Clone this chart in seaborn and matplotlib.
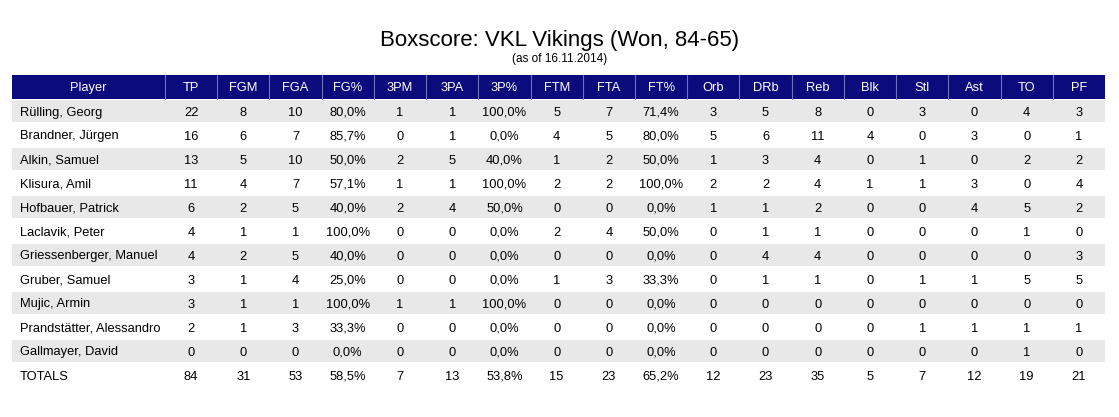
import matplotlib
matplotlib.use("Agg")
import matplotlib.pyplot as plt
import seaborn as sns
import pandas as pd
from matplotlib.patches import Rectangle

columns = ["Player", "TP", "FGM", "FGA", "FG%", "3PM", "3PA", "3P%", "FTM", "FTA",
           "FT%", "Orb", "DRb", "Reb", "Blk", "Stl", "Ast", "TO", "PF"]
players = ["Rülling, Georg", "Brandner, Jürgen", "Alkin, Samuel", "Klisura, Amil",
           "Hofbauer, Patrick", "Laclavik, Peter", "Griessenberger, Manuel",
           "Gruber, Samuel", "Mujic, Armin", "Prandstätter, Alessandro",
           "Gallmayer, David", "TOTALS"]
tp = [22, 16, 13, 11, 6, 4, 4, 3, 3, 2, 0, 84]
fgm = [8, 6, 5, 4, 2, 1, 2, 1, 1, 1, 0, 31]
fga = [10, 7, 10, 7, 5, 1, 5, 4, 1, 3, 0, 53]
fg_pct = ["80,0%", "85,7%", "50,0%", "57,1%", "40,0%", "100,0%", "40,0%", "25,0%",
          "100,0%", "33,3%", "0,0%", "58,5%"]
tpm = [1, 0, 2, 1, 2, 0, 0, 0, 1, 0, 0, 7]
tpa = [1, 1, 5, 1, 4, 0, 0, 0, 1, 0, 0, 13]
tp_pct = ["100,0%", "0,0%", "40,0%", "100,0%", "50,0%", "0,0%", "0,0%", "0,0%",
          "100,0%", "0,0%", "0,0%", "53,8%"]
ftm = [5, 4, 1, 2, 0, 2, 0, 1, 0, 0, 0, 15]
fta = [7, 5, 2, 2, 0, 4, 0, 3, 0, 0, 0, 23]
ft_pct = ["71,4%", "80,0%", "50,0%", "100,0%", "0,0%", "50,0%", "0,0%", "33,3%",
          "0,0%", "0,0%", "0,0%", "65,2%"]
orb = [3, 5, 1, 2, 1, 0, 0, 0, 0, 0, 0, 12]
drb = [5, 6, 3, 2, 1, 1, 4, 1, 0, 0, 0, 23]
reb = [8, 11, 4, 4, 2, 1, 4, 1, 0, 0, 0, 35]
blk = [0, 4, 0, 1, 0, 0, 0, 0, 0, 0, 0, 5]
stl = [3, 0, 1, 1, 0, 0, 0, 1, 0, 1, 0, 7]
ast = [0, 3, 0, 3, 4, 0, 0, 1, 0, 1, 0, 12]
to = [4, 0, 2, 0, 5, 1, 0, 5, 0, 1, 1, 19]
pf = [3, 1, 2, 4, 2, 0, 3, 5, 0, 1, 0, 21]

df = pd.DataFrame(dict(zip(columns, [players, tp, fgm, fga, fg_pct, tpm, tpa, tp_pct,
                                     ftm, fta, ft_pct, orb, drb, reb, blk, stl, ast, to, pf])))

sns.set_theme(style="white", rc={"font.family": "Liberation Sans", "text.color": "black"})
W, H = 1119, 417
fig = plt.figure(figsize=(W / 100, H / 100), dpi=100)
ax = fig.add_axes([0, 0, 1, 1])
ax.set_xlim(0, W)
ax.set_ylim(H, 0)
ax.axis("off")

x0, x1, player_w = 12, 1105, 153
col_w = (x1 - x0 - player_w) / (len(columns) - 1)
top, row_h = 75, 24
fs = 9.3

ax.text(W / 2, 40, "Boxscore: VKL Vikings (Won, 84-65)", ha="center", va="center",
        fontsize=16, color="black")
ax.text(W / 2, 59, "(as of 16.11.2014)", ha="center", va="center", fontsize=8.5, color="black")

def col_left(j):
    return x0 if j == 0 else x0 + player_w + (j - 1) * col_w

# header
ax.add_patch(Rectangle((x0, top), x1 - x0, row_h, color="#0b0b7e", lw=0))
for j, c in enumerate(columns):
    w = player_w if j == 0 else col_w
    ax.text(col_left(j) + w / 2, top + row_h / 2 + 4, c, ha="center", va="baseline",
            color="white", fontsize=fs)
    if j > 0:
        ax.plot([col_left(j)] * 2, [top, top + row_h], color="#6f74b8", lw=0.8)

# body
for i, row in df.iterrows():
    y = top + row_h * (i + 1)
    if i % 2 == 0 and row["Player"] != "TOTALS":
        ax.add_patch(Rectangle((x0, y + 1), x1 - x0, row_h - 2, color="#e8e8e8", lw=0))
    base = y + row_h / 2 + 4.5
    for j, c in enumerate(columns):
        if j == 0:
            ax.text(x0 + 8, base, row[c], ha="left", va="baseline", fontsize=fs)
        else:
            ax.text(col_left(j) + col_w / 2, base, str(row[c]),
                    ha="center", va="baseline", fontsize=fs)

fig.savefig("out.png", dpi=100)
